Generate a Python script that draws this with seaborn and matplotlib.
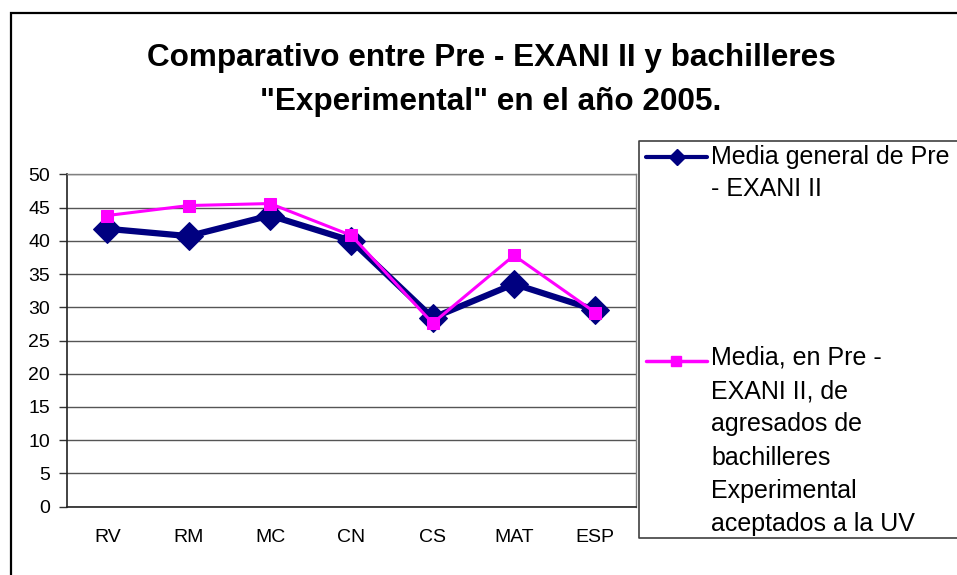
import matplotlib
matplotlib.use("Agg")
import matplotlib.pyplot as plt
from matplotlib.lines import Line2D
import seaborn as sns
import pandas as pd

# data
categories = ["RV", "RM", "MC", "CN", "CS", "MAT", "ESP"]
media_general = [41.8, 40.7, 43.8, 40.0, 28.4, 33.5, 29.6]
media_experimental = [43.8, 45.3, 45.6, 40.8, 27.6, 37.8, 29.2]

label_general = ["Media general de Pre", "- EXANI II"]
label_experimental = ["Media, en Pre -", "EXANI II, de", "agresados de",
                      "bachilleres", "Experimental", "aceptados a la UV"]
title_lines = ["Comparativo entre Pre - EXANI II y bachilleres",
               "\"Experimental\" en el año 2005."]
yticks = list(range(0, 55, 5))

navy = "#000080"
magenta = "#FF00FF"

sns.set_style("white")
plt.rcParams["font.family"] = ["Liberation Sans", "DejaVu Sans"]
plt.rcParams["text.color"] = "black"
plt.rcParams["xtick.color"] = "black"
plt.rcParams["ytick.color"] = "black"

W, H = 957, 575
fig = plt.figure(figsize=(W / 100, H / 100), dpi=100)

# plot area in pixel coordinates of the reference
left, right, top, bottom = 66.7, 636, 174.3, 506.7
ax = fig.add_axes([left / W, 1 - bottom / H, (right - left) / W, (bottom - top) / H])

df = pd.DataFrame({"cat": categories,
                   "general": media_general,
                   "experimental": media_experimental})
df["x"] = range(len(categories))

sns.lineplot(data=df, x="x", y="general", ax=ax, color=navy, lw=4.5,
             marker="D", markersize=14, markeredgecolor=navy, zorder=3)
sns.lineplot(data=df, x="x", y="experimental", ax=ax, color=magenta, lw=2.2,
             marker="s", markersize=9, markeredgecolor=magenta, zorder=4)

ax.set_xlim(-0.5, len(categories) - 0.5)
ax.set_ylim(0, 50)
ax.set_xlabel("")
ax.set_ylabel("")
ax.set_yticks(yticks)
ax.set_xticks(df["x"])
ax.set_xticklabels(categories)
ax.set_xticks([i - 0.5 for i in range(len(categories) + 1)], minor=True)
ax.tick_params(axis="x", which="major", length=0, labelsize=14, pad=16)
ax.tick_params(axis="x", which="minor", length=6, width=1, color="#333333",
               direction="out")
ax.tick_params(axis="y", length=6, width=1, color="#333333", direction="out",
               labelsize=14, pad=6, left=True)
ax.yaxis.grid(True, color="#555555", lw=1)
ax.set_axisbelow(True)
for side in ["left", "bottom"]:
    ax.spines[side].set_color("#222222")
    ax.spines[side].set_linewidth(1.2)
for side in ["top", "right"]:
    ax.spines[side].set_color("#808080")
    ax.spines[side].set_linewidth(1.0)

# overlay in pixel coordinates for border, title and legend
ov = fig.add_axes([0, 0, 1, 1], zorder=-1)
ov.set_xlim(0, W)
ov.set_ylim(H, 0)
ov.axis("off")
ov.patch.set_alpha(0)

# outer chart border (runs off the right and bottom edges)
ov.plot([11, 11, W + 5], [H + 5, 13, 13], color="black", lw=1.6,
        solid_joinstyle="miter")

ov.text(491, 66, title_lines[0], ha="center", va="baseline",
        fontsize=22.7, fontweight="bold")
ov.text(491, 110, title_lines[1], ha="center", va="baseline",
        fontsize=22.7, fontweight="bold")

# legend box (right side clipped by the image)
ov.plot([W + 5, 638.5, 638.5, W + 5], [141, 141, 538, 538],
        color="#404040", lw=1.2)

ov.add_line(Line2D([646, 707], [157, 157], color=navy, lw=3))
ov.add_line(Line2D([677], [157], color=navy, marker="D", markersize=8))
ov.add_line(Line2D([646, 707], [361, 361], color=magenta, lw=2.5))
ov.add_line(Line2D([676], [361], color=magenta, marker="s", markersize=7))

step = 33.2
for i, line in enumerate(label_general):
    ov.text(711, 164 + i * 32, line, fontsize=18, va="baseline", ha="left")
for i, line in enumerate(label_experimental):
    ov.text(711, 365 + i * step, line, fontsize=18, va="baseline", ha="left")

fig.savefig("out.png", dpi=100)
